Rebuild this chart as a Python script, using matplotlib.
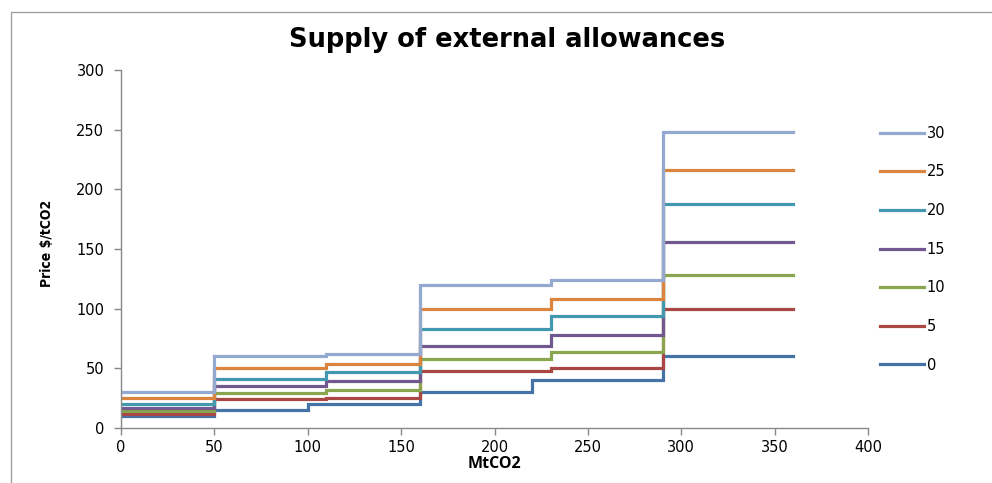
import matplotlib
matplotlib.use("Agg")
import matplotlib.pyplot as plt
from matplotlib.patches import Rectangle

plt.rcParams["font.family"] = ["DejaVu Sans"]

labels = ["0", "5", "10", "15", "20", "25", "30"]
x_0 = [0, 50, 100, 160, 220, 290, 360]
x_std = [0, 50, 110, 160, 230, 290, 360]
vals_0 = [10, 15, 20, 30, 40, 60]
vals_5 = [12, 24, 25, 48, 50, 100]
vals_10 = [14.5, 29, 32, 58, 64, 128]
vals_15 = [17, 35, 39, 69, 78, 156]
vals_20 = [20.5, 41, 47, 83, 94, 188]
vals_25 = [25, 50, 54, 100, 108, 216]
vals_30 = [30, 60, 62, 120, 124, 248]
colors = ["#4572A7", "#AA4643", "#89A54E", "#71588F", "#4198AF", "#DB843D", "#93A9CF"]

series = [(x_0, vals_0), (x_std, vals_5), (x_std, vals_10), (x_std, vals_15),
          (x_std, vals_20), (x_std, vals_25), (x_std, vals_30)]

fig = plt.figure(figsize=(9.92, 4.83), dpi=100)
fig.patches.append(Rectangle((11/992, -0.1), 1.2, (483-12)/483 + 0.1, transform=fig.transFigure,
                             fill=False, edgecolor="#A0A0A0", linewidth=1.0))
ax = fig.add_axes([121/992, 55/483, 747/992, 358/483])

handles = []
for (xs, vs), c, lab in zip(series, colors, labels):
    h, = ax.step(xs, vs + [vs[-1]], where="post", color=c, linewidth=2.3, label=lab,
                 solid_joinstyle="miter")
    handles.append(h)

ax.set_xlim(0, 400)
ax.set_ylim(0, 300)
ax.set_xticks(range(0, 401, 50))
ax.set_yticks(range(0, 301, 50))
for s in ["top", "right"]:
    ax.spines[s].set_visible(False)
for s in ["left", "bottom"]:
    ax.spines[s].set_color("#888888")
    ax.spines[s].set_linewidth(1.0)
ax.tick_params(axis="both", colors="#888888", labelcolor="black", labelsize=10.5, length=5, width=1)
ax.tick_params(axis="y", pad=7)

ax.set_xlabel("MtCO2", fontsize=11.5, fontweight="bold", family="Open Sans", labelpad=1)
fig.text(47/992, 1 - 243/483, "Price $/tCO2", rotation=90, ha="center", va="center",
         fontsize=10, fontweight="bold", family="DejaVu Sans", fontstretch="condensed")
fig.text(507/992, 1 - 40/483, "Supply of external allowances", ha="center", va="center",
         fontsize=18.5, fontweight="bold", family="DejaVu Sans")

leg = ax.legend(handles[::-1], labels[::-1], loc="upper left", bbox_to_anchor=(874/992, 1 - 120/483),
                bbox_transform=fig.transFigure, frameon=False, fontsize=10.5,
                handlelength=3.0, handletextpad=0.2, labelspacing=1.62, borderaxespad=0)

fig.savefig("out.png", dpi=100)
